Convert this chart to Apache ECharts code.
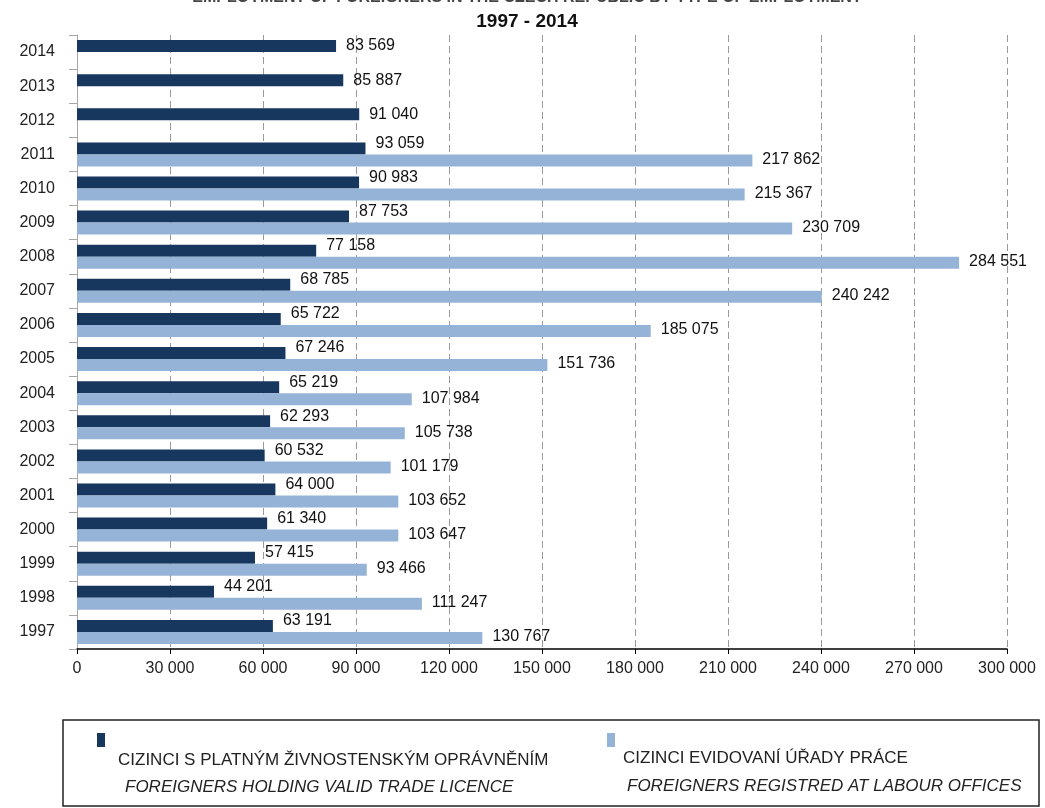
<!DOCTYPE html>
<html>
<head>
<meta charset="utf-8">
<script src="https://cdn.jsdelivr.net/npm/echarts@6/dist/echarts.min.js"></script>
<style>
html,body{margin:0;padding:0;background:#fff;}
#chart{width:1045px;height:808px;}
</style>
</head>
<body>
<div id="chart"></div>
<script>
var years = ['1997','1998','1999','2000','2001','2002','2003','2004','2005','2006','2007','2008','2009','2010','2011','2012','2013','2014'];
var tradeLicence = [63191,44201,57415,61340,64000,60532,62293,65219,67246,65722,68785,77158,87753,90983,93059,91040,85887,83569];
var labourOffices = [130767,111247,93466,103647,103652,101179,105738,107984,151736,185075,240242,284551,230709,215367,217862,null,null,null];
var xTicks = [0,30000,60000,90000,120000,150000,180000,210000,240000,270000,300000];
var seriesNames = ['CIZINCI S PLATNÝM ŽIVNOSTENSKÝM OPRÁVNĚNÍM','CIZINCI EVIDOVANÍ ÚŘADY PRÁCE'];
var seriesNamesEn = ['FOREIGNERS HOLDING VALID TRADE LICENCE','FOREIGNERS REGISTRED AT LABOUR OFFICES'];
var titleLine1 = 'EMPLOYMENT OF FOREIGNERS IN THE CZECH REPUBLIC BY TYPE OF EMPLOYMENT';
var titleLine2 = '1997 - 2014';

var FONT = '"Liberation Sans","Open Sans",Arial,sans-serif';
var DARK = '#17375E';
var LIGHT = '#95B3D7';

function fmt(v){
  return String(v).replace(/\B(?=(\d{3})+(?!\d))/g,' ');
}

var chart = echarts.init(document.getElementById('chart'));

var darkData = tradeLicence.map(function(v,i){
  var item = {value:v};
  if (labourOffices[i] != null) item.label = {offset:[0,-5]};
  return item;
});
var lightData = labourOffices.map(function(v){ return {value:v, label:{offset:[0,-1]}}; });

chart.setOption({
  animation:false,
  backgroundColor:'#fff',
  grid:{left:77,right:38,top:35,bottom:159,containLabel:false},
  xAxis:{
    type:'value',min:xTicks[0],max:xTicks[xTicks.length-1],interval:xTicks[1]-xTicks[0],
    axisLine:{show:true,lineStyle:{color:'#000',width:1.5}},
    axisTick:{show:true,length:5,lineStyle:{color:'#000'}},
    axisLabel:{formatter:function(v){return fmt(v);},fontFamily:FONT,fontSize:16,color:'#222',margin:12},
    splitLine:{show:true,lineStyle:{color:'#9a9a9a',type:[7,4],width:1}}
  },
  yAxis:{
    type:'category',data:years,
    axisLine:{show:true,lineStyle:{color:'#a6a6a6'}},
    axisTick:{show:true,length:8,lineStyle:{color:'#a6a6a6'}},
    axisLabel:{fontFamily:FONT,fontSize:16,color:'#222',margin:22},
    splitLine:{show:false}
  },
  legend:[
    {data:[seriesNames[0]],left:97,top:733,padding:0,itemWidth:8,itemHeight:14,icon:'rect',formatter:function(){return '';},selectedMode:false},
    {data:[seriesNames[1]],left:607,top:733,padding:0,itemWidth:8,itemHeight:14,icon:'rect',formatter:function(){return '';},selectedMode:false}
  ],
  graphic:[
    {type:'text',x:527,y:-2,style:{text:titleLine1,font:'bold 16px '+FONT,fill:'#444',align:'center',verticalAlign:'middle'}},
    {type:'text',x:527,y:22,style:{text:titleLine2,font:'bold 19px '+FONT,fill:'#111',align:'center',verticalAlign:'middle'}},
    {type:'rect',shape:{x:63,y:720,width:976,height:86},style:{fill:'none',stroke:'#222',lineWidth:1.5}},
    {type:'text',x:118,y:760,style:{text:seriesNames[0],font:'17px '+FONT,fill:'#222',verticalAlign:'middle'}},
    {type:'text',x:125,y:787,style:{text:seriesNamesEn[0],font:'italic 17px '+FONT,fill:'#222',verticalAlign:'middle'}},
    {type:'text',x:623,y:758,style:{text:seriesNames[1],font:'17px '+FONT,fill:'#222',verticalAlign:'middle'}},
    {type:'text',x:627,y:786,style:{text:seriesNamesEn[1],font:'italic 17px '+FONT,fill:'#222',verticalAlign:'middle'}}
  ],
  series:[
    {
      name:seriesNames[0],type:'bar',data:darkData,barWidth:12,barGap:'0%',
      itemStyle:{color:DARK},
      label:{show:true,position:'right',distance:10,formatter:function(p){return fmt(p.value);},fontFamily:FONT,fontSize:16,color:'#111'}
    },
    {
      name:seriesNames[1],type:'bar',data:lightData,barWidth:12,barGap:'0%',
      itemStyle:{color:LIGHT},
      label:{show:true,position:'right',distance:10,formatter:function(p){return p.value==null?'':fmt(p.value);},fontFamily:FONT,fontSize:16,color:'#111'}
    }
  ]
});
</script>
</body>
</html>
